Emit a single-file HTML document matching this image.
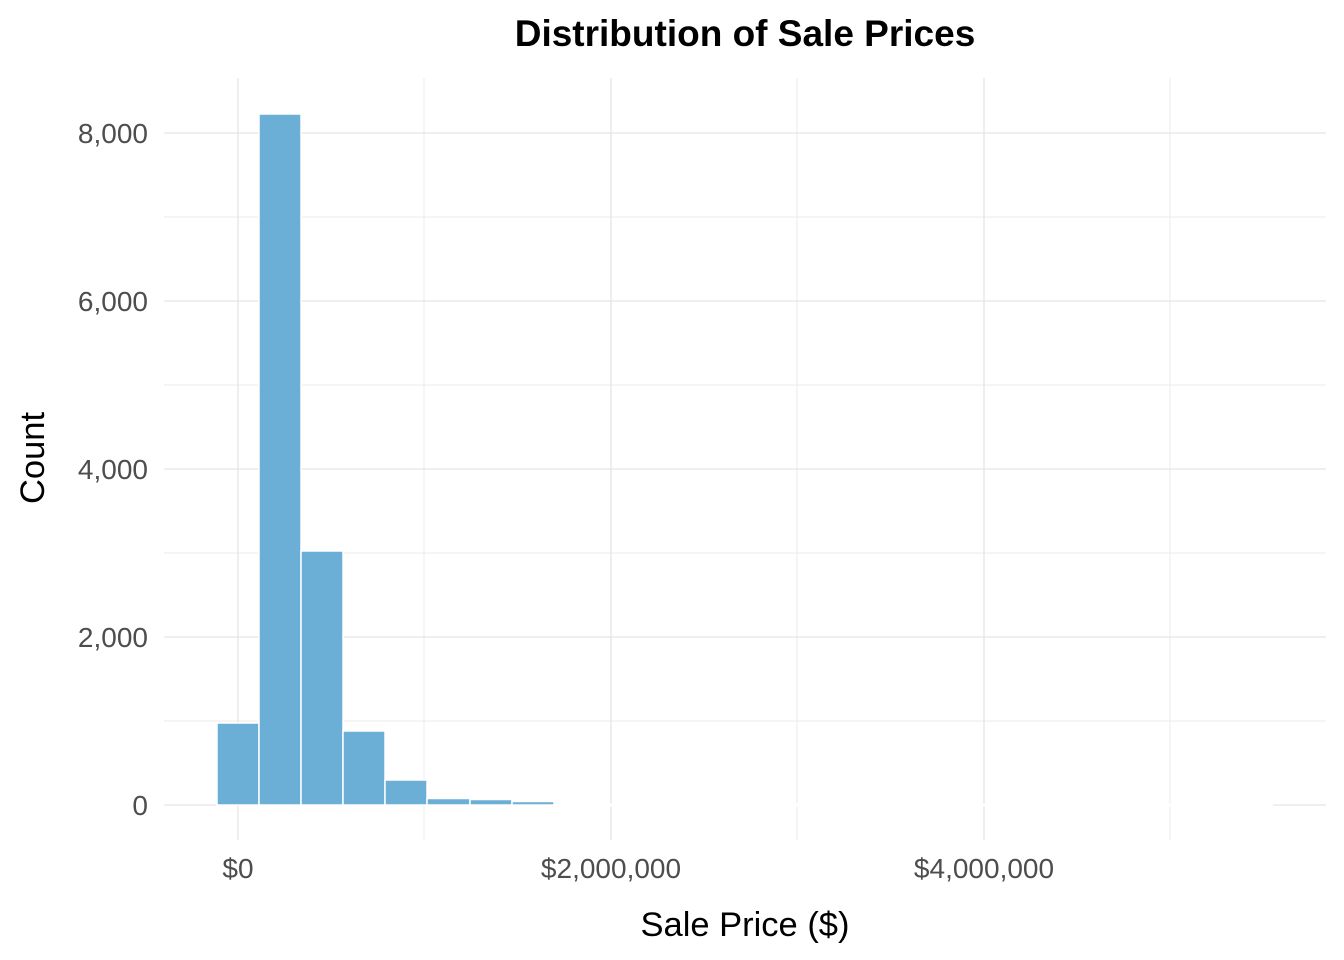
<!DOCTYPE html>
<html><head><style>body{margin:0;background:#fff}svg{display:block}</style></head><body>
<svg width="1344" height="960" xmlns="http://www.w3.org/2000/svg" font-family="Liberation Sans, sans-serif">
<rect width="1344" height="960" fill="#fff"/>
<g stroke="#ebebeb" stroke-width="1">
<line x1="164" x2="1326" y1="721" y2="721"/><line x1="164" x2="1326" y1="553" y2="553"/><line x1="164" x2="1326" y1="385" y2="385"/><line x1="164" x2="1326" y1="217" y2="217"/>
<line x1="424" x2="424" y1="78" y2="840"/><line x1="797" x2="797" y1="78" y2="840"/><line x1="1170" x2="1170" y1="78" y2="840"/>
</g>
<g stroke="#e5e5e5" stroke-width="1.3">
<line x1="164" x2="1326" y1="805" y2="805"/><line x1="164" x2="1326" y1="637" y2="637"/><line x1="164" x2="1326" y1="469" y2="469"/><line x1="164" x2="1326" y1="301" y2="301"/><line x1="164" x2="1326" y1="133" y2="133"/>
<line x1="238" x2="238" y1="78" y2="840"/><line x1="611" x2="611" y1="78" y2="840"/><line x1="984" x2="984" y1="78" y2="840"/>
</g>
<rect x="554" y="803.5" width="719" height="3" fill="#fff"/>
<g fill="#6baed6" stroke="#fff" stroke-width="1.5">
<rect x="217" y="723" width="42" height="82"/>
<rect x="259" y="114" width="42" height="691"/>
<rect x="301" y="551" width="42" height="254"/>
<rect x="343" y="731" width="42" height="74"/>
<rect x="385" y="780" width="42" height="25"/>
<rect x="427" y="798.5" width="43" height="6.5"/>
<rect x="470" y="799.5" width="42" height="5.5"/>
<rect x="512" y="801.5" width="42" height="3.5"/>
</g>
<g fill="#4d4d4d" font-size="28" text-anchor="end">
<text x="148" y="815">0</text><text x="148" y="647">2,000</text><text x="148" y="479">4,000</text><text x="148" y="311">6,000</text><text x="148" y="143">8,000</text>
</g>
<g fill="#4d4d4d" font-size="28" text-anchor="middle">
<text x="238" y="878">$0</text><text x="611" y="878">$2,000,000</text><text x="984" y="878">$4,000,000</text>
</g>
<text x="745" y="936" font-size="34.5" text-anchor="middle">Sale Price ($)</text>
<text transform="translate(44,458) rotate(-90)" font-size="34.5" text-anchor="middle">Count</text>
<text x="745" y="46" font-size="37" font-weight="bold" text-anchor="middle">Distribution of Sale Prices</text>
</svg>
</body></html>
